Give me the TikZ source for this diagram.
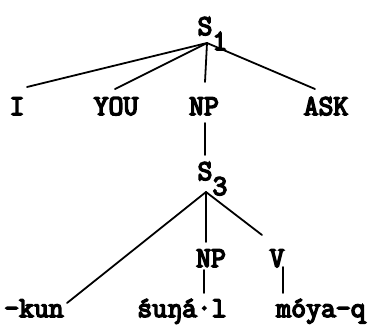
\documentclass[tikz,border=0pt]{standalone}
\usepackage{fontspec}
\newfontfamily\typew{Latin Modern Mono}
\usetikzlibrary{calc}
% heavy typewriter ink: glyphs are filled and stroked
\newcommand{\ink}[1]{\special{pdf:literal direct 2 Tr 1.5 w}#1\special{pdf:literal direct 0 Tr}}
\tikzset{
  word/.style={font=\typew\fontsize{29}{32}\selectfont, inner sep=0pt, outer sep=0pt, anchor=base},
  branch/.style={line width=1.8pt, line cap=round}
}
\newcommand{\lowsub}[1]{\rlap{\raisebox{-15bp}{#1}}}
\begin{document}
\begin{tikzpicture}[x=1bp, y=-1bp]
  \useasboundingbox (0,0) rectangle (382,331);

  % upper clause
  \node[word] (s1)  at (205,35)  {\ink{S\lowsub{1}}};
  \node[word] (i)   at (17,115)  {\ink{I}};
  \node[word] (you) at (116,115) {\ink{YOU}};
  \node[word] (np1) at (204,115) {\ink{NP}};
  \node[word] (ask) at (326,115) {\ink{ASK}};

  % embedded clause
  \node[word] (s3)  at (205,180) {\ink{S\lowsub{3}}};
  \node[word] (np2) at (211,267) {\ink{NP}};
  \node[word] (v)   at (277,267) {\ink{V}};

  % surface forms
  \node[word] (kun)   at (34,317)  {\ink{-kun}};
  \node[word] (sunal) at (182,317) {\ink{śuŋá·l}};
  \node[word] (moya)  at (321,317) {\ink{móya-q}};

  % branches of S1
  \draw[branch] ($(s1.base)+(2,8)$) -- ($(i.base)+(10,-28)$);
  \draw[branch] ($(s1.base)+(2,8)$) -- ($(you.base)+(-1,-26)$);
  \draw[branch] ($(s1.base)+(2,8)$) -- ($(np1.base)+(1,-33)$);
  \draw[branch] ($(s1.base)+(2,8)$) -- ($(ask.base)+(-11,-26)$);

  % NP dominates S3
  \draw[branch] ($(np1.base)+(1,8)$) -- ($(s3.base)+(0,-25)$);

  % branches of S3
  \draw[branch] ($(s3.base)+(1,12)$) -- ($(kun.base)+(33,-14)$);
  \draw[branch] ($(s3.base)+(1,12)$) -- ($(np2.base)+(-5,-25)$);
  \draw[branch] ($(s3.base)+(1,12)$) -- ($(v.base)+(-15,-32)$);

  % lexical attachments
  \draw[branch] ($(np2.base)+(-7,3)$) -- ($(sunal.base)+(22,-24)$);
  \draw[branch] ($(v.base)+(6,0)$) -- ($(moya.base)+(-38,-24)$);
\end{tikzpicture}
\end{document}
